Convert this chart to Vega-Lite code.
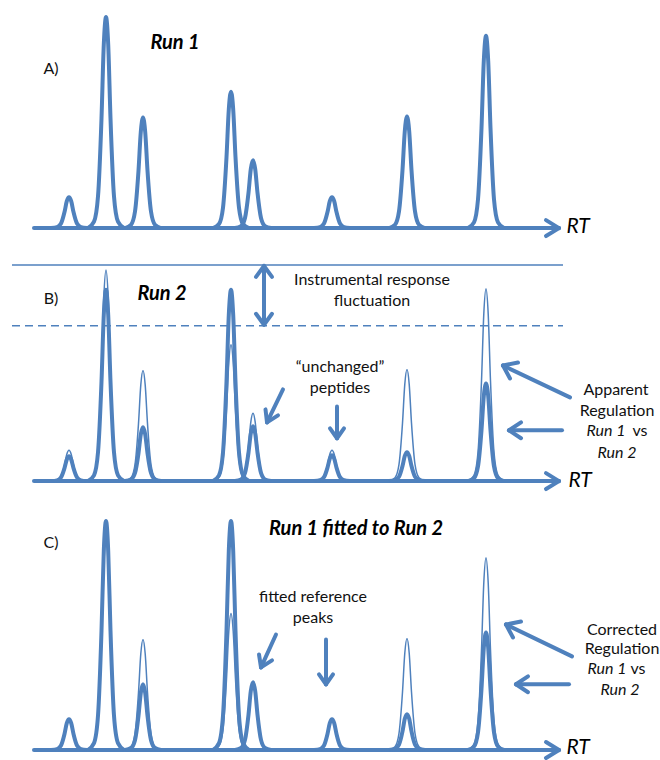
{
"$schema": "https://vega.github.io/schema/vega-lite/v6.json",
"width": 660, "height": 760, "padding": 0,
"autosize": {"type": "fit", "contains": "padding"},
"background": "white",
"config": {"view": {"stroke": null}},
"datasets": {
"peaks": [
{"panel":"A","run":1,"peak":1,"rt":51,"y":229},{"panel":"A","run":1,"peak":1,"rt":57,"y":228.1},{"panel":"A","run":1,"peak":1,"rt":61,"y":224.4},{"panel":"A","run":1,"peak":1,"rt":64.5,"y":212.9},{"panel":"A","run":1,"peak":1,"rt":66.8,"y":202},{"panel":"A","run":1,"peak":1,"rt":69,"y":198},{"panel":"A","run":1,"peak":1,"rt":71.2,"y":202},{"panel":"A","run":1,"peak":1,"rt":73.5,"y":212.9},{"panel":"A","run":1,"peak":1,"rt":77,"y":224.4},{"panel":"A","run":1,"peak":1,"rt":81,"y":228.1},{"panel":"A","run":1,"peak":1,"rt":87,"y":229},
{"panel":"A","run":1,"peak":2,"rt":88,"y":229},{"panel":"A","run":1,"peak":2,"rt":94,"y":222.6},{"panel":"A","run":1,"peak":2,"rt":98,"y":197.2},{"panel":"A","run":1,"peak":2,"rt":101.5,"y":118.8},{"panel":"A","run":1,"peak":2,"rt":103.8,"y":44.6},{"panel":"A","run":1,"peak":2,"rt":106,"y":17},{"panel":"A","run":1,"peak":2,"rt":108.2,"y":44.6},{"panel":"A","run":1,"peak":2,"rt":110.5,"y":118.8},{"panel":"A","run":1,"peak":2,"rt":114,"y":197.2},{"panel":"A","run":1,"peak":2,"rt":118,"y":222.6},{"panel":"A","run":1,"peak":2,"rt":124,"y":229},
{"panel":"A","run":1,"peak":3,"rt":125,"y":229},{"panel":"A","run":1,"peak":3,"rt":131,"y":225.7},{"panel":"A","run":1,"peak":3,"rt":135,"y":212.4},{"panel":"A","run":1,"peak":3,"rt":138.5,"y":171.3},{"panel":"A","run":1,"peak":3,"rt":140.8,"y":132.4},{"panel":"A","run":1,"peak":3,"rt":143,"y":118},{"panel":"A","run":1,"peak":3,"rt":145.2,"y":132.4},{"panel":"A","run":1,"peak":3,"rt":147.5,"y":171.3},{"panel":"A","run":1,"peak":3,"rt":151,"y":212.4},{"panel":"A","run":1,"peak":3,"rt":155,"y":225.7},{"panel":"A","run":1,"peak":3,"rt":161,"y":229},
{"panel":"A","run":1,"peak":4,"rt":213,"y":229},{"panel":"A","run":1,"peak":4,"rt":219,"y":224.9},{"panel":"A","run":1,"peak":4,"rt":223,"y":208.5},{"panel":"A","run":1,"peak":4,"rt":226.5,"y":157.8},{"panel":"A","run":1,"peak":4,"rt":228.8,"y":109.8},{"panel":"A","run":1,"peak":4,"rt":231,"y":92},{"panel":"A","run":1,"peak":4,"rt":233.2,"y":109.8},{"panel":"A","run":1,"peak":4,"rt":235.5,"y":157.8},{"panel":"A","run":1,"peak":4,"rt":239,"y":208.5},{"panel":"A","run":1,"peak":4,"rt":243,"y":224.9},{"panel":"A","run":1,"peak":4,"rt":249,"y":229},
{"panel":"A","run":1,"peak":5,"rt":235,"y":229},{"panel":"A","run":1,"peak":5,"rt":241,"y":227},{"panel":"A","run":1,"peak":5,"rt":245,"y":218.8},{"panel":"A","run":1,"peak":5,"rt":248.5,"y":193.6},{"panel":"A","run":1,"peak":5,"rt":250.8,"y":169.8},{"panel":"A","run":1,"peak":5,"rt":253,"y":161},{"panel":"A","run":1,"peak":5,"rt":255.2,"y":169.8},{"panel":"A","run":1,"peak":5,"rt":257.5,"y":193.6},{"panel":"A","run":1,"peak":5,"rt":261,"y":218.8},{"panel":"A","run":1,"peak":5,"rt":265,"y":227},{"panel":"A","run":1,"peak":5,"rt":271,"y":229},
{"panel":"A","run":1,"peak":6,"rt":314,"y":229},{"panel":"A","run":1,"peak":6,"rt":320,"y":228.1},{"panel":"A","run":1,"peak":6,"rt":324,"y":224.4},{"panel":"A","run":1,"peak":6,"rt":327.5,"y":212.9},{"panel":"A","run":1,"peak":6,"rt":329.8,"y":202},{"panel":"A","run":1,"peak":6,"rt":332,"y":198},{"panel":"A","run":1,"peak":6,"rt":334.2,"y":202},{"panel":"A","run":1,"peak":6,"rt":336.5,"y":212.9},{"panel":"A","run":1,"peak":6,"rt":340,"y":224.4},{"panel":"A","run":1,"peak":6,"rt":344,"y":228.1},{"panel":"A","run":1,"peak":6,"rt":350,"y":229},
{"panel":"A","run":1,"peak":7,"rt":389,"y":229},{"panel":"A","run":1,"peak":7,"rt":395,"y":225.6},{"panel":"A","run":1,"peak":7,"rt":399,"y":212.2},{"panel":"A","run":1,"peak":7,"rt":402.5,"y":170.8},{"panel":"A","run":1,"peak":7,"rt":404.8,"y":131.6},{"panel":"A","run":1,"peak":7,"rt":407,"y":117},{"panel":"A","run":1,"peak":7,"rt":409.2,"y":131.6},{"panel":"A","run":1,"peak":7,"rt":411.5,"y":170.8},{"panel":"A","run":1,"peak":7,"rt":415,"y":212.2},{"panel":"A","run":1,"peak":7,"rt":419,"y":225.6},{"panel":"A","run":1,"peak":7,"rt":425,"y":229},
{"panel":"A","run":1,"peak":8,"rt":468,"y":229},{"panel":"A","run":1,"peak":8,"rt":474,"y":223.2},{"panel":"A","run":1,"peak":8,"rt":478,"y":200.1},{"panel":"A","run":1,"peak":8,"rt":481.5,"y":128.6},{"panel":"A","run":1,"peak":8,"rt":483.8,"y":61.1},{"panel":"A","run":1,"peak":8,"rt":486,"y":36},{"panel":"A","run":1,"peak":8,"rt":488.2,"y":61.1},{"panel":"A","run":1,"peak":8,"rt":490.5,"y":128.6},{"panel":"A","run":1,"peak":8,"rt":494,"y":200.1},{"panel":"A","run":1,"peak":8,"rt":498,"y":223.2},{"panel":"A","run":1,"peak":8,"rt":504,"y":229},

{"panel":"B","run":1,"peak":1,"rt":51,"y":483},{"panel":"B","run":1,"peak":1,"rt":57,"y":482.1},{"panel":"B","run":1,"peak":1,"rt":61,"y":478.4},{"panel":"B","run":1,"peak":1,"rt":64.5,"y":466.9},{"panel":"B","run":1,"peak":1,"rt":66.8,"y":456},{"panel":"B","run":1,"peak":1,"rt":69,"y":452},{"panel":"B","run":1,"peak":1,"rt":71.2,"y":456},{"panel":"B","run":1,"peak":1,"rt":73.5,"y":466.9},{"panel":"B","run":1,"peak":1,"rt":77,"y":478.4},{"panel":"B","run":1,"peak":1,"rt":81,"y":482.1},{"panel":"B","run":1,"peak":1,"rt":87,"y":483},
{"panel":"B","run":1,"peak":2,"rt":88,"y":483},{"panel":"B","run":1,"peak":2,"rt":94,"y":476.6},{"panel":"B","run":1,"peak":2,"rt":98,"y":451.2},{"panel":"B","run":1,"peak":2,"rt":101.5,"y":372.8},{"panel":"B","run":1,"peak":2,"rt":103.8,"y":298.6},{"panel":"B","run":1,"peak":2,"rt":106,"y":271},{"panel":"B","run":1,"peak":2,"rt":108.2,"y":298.6},{"panel":"B","run":1,"peak":2,"rt":110.5,"y":372.8},{"panel":"B","run":1,"peak":2,"rt":114,"y":451.2},{"panel":"B","run":1,"peak":2,"rt":118,"y":476.6},{"panel":"B","run":1,"peak":2,"rt":124,"y":483},
{"panel":"B","run":1,"peak":3,"rt":125,"y":483},{"panel":"B","run":1,"peak":3,"rt":131,"y":479.7},{"panel":"B","run":1,"peak":3,"rt":135,"y":466.4},{"panel":"B","run":1,"peak":3,"rt":138.5,"y":425.3},{"panel":"B","run":1,"peak":3,"rt":140.8,"y":386.4},{"panel":"B","run":1,"peak":3,"rt":143,"y":372},{"panel":"B","run":1,"peak":3,"rt":145.2,"y":386.4},{"panel":"B","run":1,"peak":3,"rt":147.5,"y":425.3},{"panel":"B","run":1,"peak":3,"rt":151,"y":466.4},{"panel":"B","run":1,"peak":3,"rt":155,"y":479.7},{"panel":"B","run":1,"peak":3,"rt":161,"y":483},
{"panel":"B","run":1,"peak":4,"rt":213,"y":483},{"panel":"B","run":1,"peak":4,"rt":219,"y":478.9},{"panel":"B","run":1,"peak":4,"rt":223,"y":462.5},{"panel":"B","run":1,"peak":4,"rt":226.5,"y":411.8},{"panel":"B","run":1,"peak":4,"rt":228.8,"y":363.8},{"panel":"B","run":1,"peak":4,"rt":231,"y":346},{"panel":"B","run":1,"peak":4,"rt":233.2,"y":363.8},{"panel":"B","run":1,"peak":4,"rt":235.5,"y":411.8},{"panel":"B","run":1,"peak":4,"rt":239,"y":462.5},{"panel":"B","run":1,"peak":4,"rt":243,"y":478.9},{"panel":"B","run":1,"peak":4,"rt":249,"y":483},
{"panel":"B","run":1,"peak":5,"rt":235,"y":483},{"panel":"B","run":1,"peak":5,"rt":241,"y":481},{"panel":"B","run":1,"peak":5,"rt":245,"y":472.8},{"panel":"B","run":1,"peak":5,"rt":248.5,"y":447.6},{"panel":"B","run":1,"peak":5,"rt":250.8,"y":423.8},{"panel":"B","run":1,"peak":5,"rt":253,"y":415},{"panel":"B","run":1,"peak":5,"rt":255.2,"y":423.8},{"panel":"B","run":1,"peak":5,"rt":257.5,"y":447.6},{"panel":"B","run":1,"peak":5,"rt":261,"y":472.8},{"panel":"B","run":1,"peak":5,"rt":265,"y":481},{"panel":"B","run":1,"peak":5,"rt":271,"y":483},
{"panel":"B","run":1,"peak":6,"rt":314,"y":483},{"panel":"B","run":1,"peak":6,"rt":320,"y":482.1},{"panel":"B","run":1,"peak":6,"rt":324,"y":478.4},{"panel":"B","run":1,"peak":6,"rt":327.5,"y":466.9},{"panel":"B","run":1,"peak":6,"rt":329.8,"y":456},{"panel":"B","run":1,"peak":6,"rt":332,"y":452},{"panel":"B","run":1,"peak":6,"rt":334.2,"y":456},{"panel":"B","run":1,"peak":6,"rt":336.5,"y":466.9},{"panel":"B","run":1,"peak":6,"rt":340,"y":478.4},{"panel":"B","run":1,"peak":6,"rt":344,"y":482.1},{"panel":"B","run":1,"peak":6,"rt":350,"y":483},
{"panel":"B","run":1,"peak":7,"rt":389,"y":483},{"panel":"B","run":1,"peak":7,"rt":395,"y":479.6},{"panel":"B","run":1,"peak":7,"rt":399,"y":466.2},{"panel":"B","run":1,"peak":7,"rt":402.5,"y":424.8},{"panel":"B","run":1,"peak":7,"rt":404.8,"y":385.6},{"panel":"B","run":1,"peak":7,"rt":407,"y":371},{"panel":"B","run":1,"peak":7,"rt":409.2,"y":385.6},{"panel":"B","run":1,"peak":7,"rt":411.5,"y":424.8},{"panel":"B","run":1,"peak":7,"rt":415,"y":466.2},{"panel":"B","run":1,"peak":7,"rt":419,"y":479.6},{"panel":"B","run":1,"peak":7,"rt":425,"y":483},
{"panel":"B","run":1,"peak":8,"rt":468,"y":483},{"panel":"B","run":1,"peak":8,"rt":474,"y":477.2},{"panel":"B","run":1,"peak":8,"rt":478,"y":454.1},{"panel":"B","run":1,"peak":8,"rt":481.5,"y":382.6},{"panel":"B","run":1,"peak":8,"rt":483.8,"y":315.1},{"panel":"B","run":1,"peak":8,"rt":486,"y":290},{"panel":"B","run":1,"peak":8,"rt":488.2,"y":315.1},{"panel":"B","run":1,"peak":8,"rt":490.5,"y":382.6},{"panel":"B","run":1,"peak":8,"rt":494,"y":454.1},{"panel":"B","run":1,"peak":8,"rt":498,"y":477.2},{"panel":"B","run":1,"peak":8,"rt":504,"y":483},

{"panel":"B","run":2,"peak":1,"rt":51,"y":483},{"panel":"B","run":2,"peak":1,"rt":57,"y":482.3},{"panel":"B","run":2,"peak":1,"rt":61,"y":479.3},{"panel":"B","run":2,"peak":1,"rt":64.5,"y":470},{"panel":"B","run":2,"peak":1,"rt":66.8,"y":461.3},{"panel":"B","run":2,"peak":1,"rt":69,"y":458},{"panel":"B","run":2,"peak":1,"rt":71.2,"y":461.3},{"panel":"B","run":2,"peak":1,"rt":73.5,"y":470},{"panel":"B","run":2,"peak":1,"rt":77,"y":479.3},{"panel":"B","run":2,"peak":1,"rt":81,"y":482.3},{"panel":"B","run":2,"peak":1,"rt":87,"y":483},
{"panel":"B","run":2,"peak":2,"rt":88,"y":483},{"panel":"B","run":2,"peak":2,"rt":94,"y":477.2},{"panel":"B","run":2,"peak":2,"rt":98,"y":454.2},{"panel":"B","run":2,"peak":2,"rt":101.5,"y":383.2},{"panel":"B","run":2,"peak":2,"rt":103.8,"y":316},{"panel":"B","run":2,"peak":2,"rt":106,"y":291},{"panel":"B","run":2,"peak":2,"rt":108.2,"y":316},{"panel":"B","run":2,"peak":2,"rt":110.5,"y":383.2},{"panel":"B","run":2,"peak":2,"rt":114,"y":454.2},{"panel":"B","run":2,"peak":2,"rt":118,"y":477.2},{"panel":"B","run":2,"peak":2,"rt":124,"y":483},
{"panel":"B","run":2,"peak":3,"rt":125,"y":483},{"panel":"B","run":2,"peak":3,"rt":131,"y":481.4},{"panel":"B","run":2,"peak":3,"rt":135,"y":474.9},{"panel":"B","run":2,"peak":3,"rt":138.5,"y":454.9},{"panel":"B","run":2,"peak":3,"rt":140.8,"y":436},{"panel":"B","run":2,"peak":3,"rt":143,"y":429},{"panel":"B","run":2,"peak":3,"rt":145.2,"y":436},{"panel":"B","run":2,"peak":3,"rt":147.5,"y":454.9},{"panel":"B","run":2,"peak":3,"rt":151,"y":474.9},{"panel":"B","run":2,"peak":3,"rt":155,"y":481.4},{"panel":"B","run":2,"peak":3,"rt":161,"y":483},
{"panel":"B","run":2,"peak":4,"rt":213,"y":483},{"panel":"B","run":2,"peak":4,"rt":219,"y":477.2},{"panel":"B","run":2,"peak":4,"rt":223,"y":454.2},{"panel":"B","run":2,"peak":4,"rt":226.5,"y":383.2},{"panel":"B","run":2,"peak":4,"rt":228.8,"y":316},{"panel":"B","run":2,"peak":4,"rt":231,"y":291},{"panel":"B","run":2,"peak":4,"rt":233.2,"y":316},{"panel":"B","run":2,"peak":4,"rt":235.5,"y":383.2},{"panel":"B","run":2,"peak":4,"rt":239,"y":454.2},{"panel":"B","run":2,"peak":4,"rt":243,"y":477.2},{"panel":"B","run":2,"peak":4,"rt":249,"y":483},
{"panel":"B","run":2,"peak":5,"rt":235,"y":483},{"panel":"B","run":2,"peak":5,"rt":241,"y":481.4},{"panel":"B","run":2,"peak":5,"rt":245,"y":474.8},{"panel":"B","run":2,"peak":5,"rt":248.5,"y":454.4},{"panel":"B","run":2,"peak":5,"rt":250.8,"y":435.2},{"panel":"B","run":2,"peak":5,"rt":253,"y":428},{"panel":"B","run":2,"peak":5,"rt":255.2,"y":435.2},{"panel":"B","run":2,"peak":5,"rt":257.5,"y":454.4},{"panel":"B","run":2,"peak":5,"rt":261,"y":474.8},{"panel":"B","run":2,"peak":5,"rt":265,"y":481.4},{"panel":"B","run":2,"peak":5,"rt":271,"y":483},
{"panel":"B","run":2,"peak":6,"rt":314,"y":483},{"panel":"B","run":2,"peak":6,"rt":320,"y":482.2},{"panel":"B","run":2,"peak":6,"rt":324,"y":479.1},{"panel":"B","run":2,"peak":6,"rt":327.5,"y":469.5},{"panel":"B","run":2,"peak":6,"rt":329.8,"y":460.4},{"panel":"B","run":2,"peak":6,"rt":332,"y":457},{"panel":"B","run":2,"peak":6,"rt":334.2,"y":460.4},{"panel":"B","run":2,"peak":6,"rt":336.5,"y":469.5},{"panel":"B","run":2,"peak":6,"rt":340,"y":479.1},{"panel":"B","run":2,"peak":6,"rt":344,"y":482.2},{"panel":"B","run":2,"peak":6,"rt":350,"y":483},
{"panel":"B","run":2,"peak":7,"rt":389,"y":483},{"panel":"B","run":2,"peak":7,"rt":395,"y":482.1},{"panel":"B","run":2,"peak":7,"rt":399,"y":478.7},{"panel":"B","run":2,"peak":7,"rt":402.5,"y":467.9},{"panel":"B","run":2,"peak":7,"rt":404.8,"y":457.8},{"panel":"B","run":2,"peak":7,"rt":407,"y":454},{"panel":"B","run":2,"peak":7,"rt":409.2,"y":457.8},{"panel":"B","run":2,"peak":7,"rt":411.5,"y":467.9},{"panel":"B","run":2,"peak":7,"rt":415,"y":478.7},{"panel":"B","run":2,"peak":7,"rt":419,"y":482.1},{"panel":"B","run":2,"peak":7,"rt":425,"y":483},
{"panel":"B","run":2,"peak":8,"rt":468,"y":483},{"panel":"B","run":2,"peak":8,"rt":474,"y":480.1},{"panel":"B","run":2,"peak":8,"rt":478,"y":468.3},{"panel":"B","run":2,"peak":8,"rt":481.5,"y":432},{"panel":"B","run":2,"peak":8,"rt":483.8,"y":397.7},{"panel":"B","run":2,"peak":8,"rt":486,"y":385},{"panel":"B","run":2,"peak":8,"rt":488.2,"y":397.7},{"panel":"B","run":2,"peak":8,"rt":490.5,"y":432},{"panel":"B","run":2,"peak":8,"rt":494,"y":468.3},{"panel":"B","run":2,"peak":8,"rt":498,"y":480.1},{"panel":"B","run":2,"peak":8,"rt":504,"y":483},

{"panel":"C","run":1,"peak":1,"rt":51,"y":753},{"panel":"C","run":1,"peak":1,"rt":57,"y":752.1},{"panel":"C","run":1,"peak":1,"rt":61,"y":748.4},{"panel":"C","run":1,"peak":1,"rt":64.5,"y":736.9},{"panel":"C","run":1,"peak":1,"rt":66.8,"y":726},{"panel":"C","run":1,"peak":1,"rt":69,"y":722},{"panel":"C","run":1,"peak":1,"rt":71.2,"y":726},{"panel":"C","run":1,"peak":1,"rt":73.5,"y":736.9},{"panel":"C","run":1,"peak":1,"rt":77,"y":748.4},{"panel":"C","run":1,"peak":1,"rt":81,"y":752.1},{"panel":"C","run":1,"peak":1,"rt":87,"y":753},
{"panel":"C","run":1,"peak":2,"rt":88,"y":753},{"panel":"C","run":1,"peak":2,"rt":94,"y":746.6},{"panel":"C","run":1,"peak":2,"rt":98,"y":721.2},{"panel":"C","run":1,"peak":2,"rt":101.5,"y":642.8},{"panel":"C","run":1,"peak":2,"rt":103.8,"y":568.6},{"panel":"C","run":1,"peak":2,"rt":106,"y":541},{"panel":"C","run":1,"peak":2,"rt":108.2,"y":568.6},{"panel":"C","run":1,"peak":2,"rt":110.5,"y":642.8},{"panel":"C","run":1,"peak":2,"rt":114,"y":721.2},{"panel":"C","run":1,"peak":2,"rt":118,"y":746.6},{"panel":"C","run":1,"peak":2,"rt":124,"y":753},
{"panel":"C","run":1,"peak":3,"rt":125,"y":753},{"panel":"C","run":1,"peak":3,"rt":131,"y":749.7},{"panel":"C","run":1,"peak":3,"rt":135,"y":736.4},{"panel":"C","run":1,"peak":3,"rt":138.5,"y":695.3},{"panel":"C","run":1,"peak":3,"rt":140.8,"y":656.4},{"panel":"C","run":1,"peak":3,"rt":143,"y":642},{"panel":"C","run":1,"peak":3,"rt":145.2,"y":656.4},{"panel":"C","run":1,"peak":3,"rt":147.5,"y":695.3},{"panel":"C","run":1,"peak":3,"rt":151,"y":736.4},{"panel":"C","run":1,"peak":3,"rt":155,"y":749.7},{"panel":"C","run":1,"peak":3,"rt":161,"y":753},
{"panel":"C","run":1,"peak":4,"rt":213,"y":753},{"panel":"C","run":1,"peak":4,"rt":219,"y":748.9},{"panel":"C","run":1,"peak":4,"rt":223,"y":732.5},{"panel":"C","run":1,"peak":4,"rt":226.5,"y":681.8},{"panel":"C","run":1,"peak":4,"rt":228.8,"y":633.8},{"panel":"C","run":1,"peak":4,"rt":231,"y":616},{"panel":"C","run":1,"peak":4,"rt":233.2,"y":633.8},{"panel":"C","run":1,"peak":4,"rt":235.5,"y":681.8},{"panel":"C","run":1,"peak":4,"rt":239,"y":732.5},{"panel":"C","run":1,"peak":4,"rt":243,"y":748.9},{"panel":"C","run":1,"peak":4,"rt":249,"y":753},
{"panel":"C","run":1,"peak":5,"rt":235,"y":753},{"panel":"C","run":1,"peak":5,"rt":241,"y":751},{"panel":"C","run":1,"peak":5,"rt":245,"y":742.8},{"panel":"C","run":1,"peak":5,"rt":248.5,"y":717.6},{"panel":"C","run":1,"peak":5,"rt":250.8,"y":693.8},{"panel":"C","run":1,"peak":5,"rt":253,"y":685},{"panel":"C","run":1,"peak":5,"rt":255.2,"y":693.8},{"panel":"C","run":1,"peak":5,"rt":257.5,"y":717.6},{"panel":"C","run":1,"peak":5,"rt":261,"y":742.8},{"panel":"C","run":1,"peak":5,"rt":265,"y":751},{"panel":"C","run":1,"peak":5,"rt":271,"y":753},
{"panel":"C","run":1,"peak":6,"rt":314,"y":753},{"panel":"C","run":1,"peak":6,"rt":320,"y":752.1},{"panel":"C","run":1,"peak":6,"rt":324,"y":748.4},{"panel":"C","run":1,"peak":6,"rt":327.5,"y":736.9},{"panel":"C","run":1,"peak":6,"rt":329.8,"y":726},{"panel":"C","run":1,"peak":6,"rt":332,"y":722},{"panel":"C","run":1,"peak":6,"rt":334.2,"y":726},{"panel":"C","run":1,"peak":6,"rt":336.5,"y":736.9},{"panel":"C","run":1,"peak":6,"rt":340,"y":748.4},{"panel":"C","run":1,"peak":6,"rt":344,"y":752.1},{"panel":"C","run":1,"peak":6,"rt":350,"y":753},
{"panel":"C","run":1,"peak":7,"rt":389,"y":753},{"panel":"C","run":1,"peak":7,"rt":395,"y":749.6},{"panel":"C","run":1,"peak":7,"rt":399,"y":736.2},{"panel":"C","run":1,"peak":7,"rt":402.5,"y":694.8},{"panel":"C","run":1,"peak":7,"rt":404.8,"y":655.6},{"panel":"C","run":1,"peak":7,"rt":407,"y":641},{"panel":"C","run":1,"peak":7,"rt":409.2,"y":655.6},{"panel":"C","run":1,"peak":7,"rt":411.5,"y":694.8},{"panel":"C","run":1,"peak":7,"rt":415,"y":736.2},{"panel":"C","run":1,"peak":7,"rt":419,"y":749.6},{"panel":"C","run":1,"peak":7,"rt":425,"y":753},
{"panel":"C","run":1,"peak":8,"rt":468,"y":753},{"panel":"C","run":1,"peak":8,"rt":474,"y":747.2},{"panel":"C","run":1,"peak":8,"rt":478,"y":724.1},{"panel":"C","run":1,"peak":8,"rt":481.5,"y":652.6},{"panel":"C","run":1,"peak":8,"rt":483.8,"y":585.1},{"panel":"C","run":1,"peak":8,"rt":486,"y":560},{"panel":"C","run":1,"peak":8,"rt":488.2,"y":585.1},{"panel":"C","run":1,"peak":8,"rt":490.5,"y":652.6},{"panel":"C","run":1,"peak":8,"rt":494,"y":724.1},{"panel":"C","run":1,"peak":8,"rt":498,"y":747.2},{"panel":"C","run":1,"peak":8,"rt":504,"y":753},

{"panel":"C","run":2,"peak":1,"rt":51,"y":753},{"panel":"C","run":2,"peak":1,"rt":57,"y":752.1},{"panel":"C","run":2,"peak":1,"rt":61,"y":748.4},{"panel":"C","run":2,"peak":1,"rt":64.5,"y":736.9},{"panel":"C","run":2,"peak":1,"rt":66.8,"y":726},{"panel":"C","run":2,"peak":1,"rt":69,"y":722},{"panel":"C","run":2,"peak":1,"rt":71.2,"y":726},{"panel":"C","run":2,"peak":1,"rt":73.5,"y":736.9},{"panel":"C","run":2,"peak":1,"rt":77,"y":748.4},{"panel":"C","run":2,"peak":1,"rt":81,"y":752.1},{"panel":"C","run":2,"peak":1,"rt":87,"y":753},
{"panel":"C","run":2,"peak":2,"rt":88,"y":753},{"panel":"C","run":2,"peak":2,"rt":94,"y":746.1},{"panel":"C","run":2,"peak":2,"rt":98,"y":718.5},{"panel":"C","run":2,"peak":2,"rt":101.5,"y":633.4},{"panel":"C","run":2,"peak":2,"rt":103.8,"y":552.9},{"panel":"C","run":2,"peak":2,"rt":106,"y":523},{"panel":"C","run":2,"peak":2,"rt":108.2,"y":552.9},{"panel":"C","run":2,"peak":2,"rt":110.5,"y":633.4},{"panel":"C","run":2,"peak":2,"rt":114,"y":718.5},{"panel":"C","run":2,"peak":2,"rt":118,"y":746.1},{"panel":"C","run":2,"peak":2,"rt":124,"y":753},
{"panel":"C","run":2,"peak":3,"rt":125,"y":753},{"panel":"C","run":2,"peak":3,"rt":131,"y":751},{"panel":"C","run":2,"peak":3,"rt":135,"y":743.1},{"panel":"C","run":2,"peak":3,"rt":138.5,"y":718.7},{"panel":"C","run":2,"peak":3,"rt":140.8,"y":695.6},{"panel":"C","run":2,"peak":3,"rt":143,"y":687},{"panel":"C","run":2,"peak":3,"rt":145.2,"y":695.6},{"panel":"C","run":2,"peak":3,"rt":147.5,"y":718.7},{"panel":"C","run":2,"peak":3,"rt":151,"y":743.1},{"panel":"C","run":2,"peak":3,"rt":155,"y":751},{"panel":"C","run":2,"peak":3,"rt":161,"y":753},
{"panel":"C","run":2,"peak":4,"rt":213,"y":753},{"panel":"C","run":2,"peak":4,"rt":219,"y":746.1},{"panel":"C","run":2,"peak":4,"rt":223,"y":718.5},{"panel":"C","run":2,"peak":4,"rt":226.5,"y":633.4},{"panel":"C","run":2,"peak":4,"rt":228.8,"y":552.9},{"panel":"C","run":2,"peak":4,"rt":231,"y":523},{"panel":"C","run":2,"peak":4,"rt":233.2,"y":552.9},{"panel":"C","run":2,"peak":4,"rt":235.5,"y":633.4},{"panel":"C","run":2,"peak":4,"rt":239,"y":718.5},{"panel":"C","run":2,"peak":4,"rt":243,"y":746.1},{"panel":"C","run":2,"peak":4,"rt":249,"y":753},
{"panel":"C","run":2,"peak":5,"rt":235,"y":753},{"panel":"C","run":2,"peak":5,"rt":241,"y":751},{"panel":"C","run":2,"peak":5,"rt":245,"y":742.8},{"panel":"C","run":2,"peak":5,"rt":248.5,"y":717.6},{"panel":"C","run":2,"peak":5,"rt":250.8,"y":693.8},{"panel":"C","run":2,"peak":5,"rt":253,"y":685},{"panel":"C","run":2,"peak":5,"rt":255.2,"y":693.8},{"panel":"C","run":2,"peak":5,"rt":257.5,"y":717.6},{"panel":"C","run":2,"peak":5,"rt":261,"y":742.8},{"panel":"C","run":2,"peak":5,"rt":265,"y":751},{"panel":"C","run":2,"peak":5,"rt":271,"y":753},
{"panel":"C","run":2,"peak":6,"rt":314,"y":753},{"panel":"C","run":2,"peak":6,"rt":320,"y":752.1},{"panel":"C","run":2,"peak":6,"rt":324,"y":748.4},{"panel":"C","run":2,"peak":6,"rt":327.5,"y":736.9},{"panel":"C","run":2,"peak":6,"rt":329.8,"y":726},{"panel":"C","run":2,"peak":6,"rt":332,"y":722},{"panel":"C","run":2,"peak":6,"rt":334.2,"y":726},{"panel":"C","run":2,"peak":6,"rt":336.5,"y":736.9},{"panel":"C","run":2,"peak":6,"rt":340,"y":748.4},{"panel":"C","run":2,"peak":6,"rt":344,"y":752.1},{"panel":"C","run":2,"peak":6,"rt":350,"y":753},
{"panel":"C","run":2,"peak":7,"rt":389,"y":753},{"panel":"C","run":2,"peak":7,"rt":395,"y":751.9},{"panel":"C","run":2,"peak":7,"rt":399,"y":747.6},{"panel":"C","run":2,"peak":7,"rt":402.5,"y":734.3},{"panel":"C","run":2,"peak":7,"rt":404.8,"y":721.7},{"panel":"C","run":2,"peak":7,"rt":407,"y":717},{"panel":"C","run":2,"peak":7,"rt":409.2,"y":721.7},{"panel":"C","run":2,"peak":7,"rt":411.5,"y":734.3},{"panel":"C","run":2,"peak":7,"rt":415,"y":747.6},{"panel":"C","run":2,"peak":7,"rt":419,"y":751.9},{"panel":"C","run":2,"peak":7,"rt":425,"y":753},
{"panel":"C","run":2,"peak":8,"rt":468,"y":753},{"panel":"C","run":2,"peak":8,"rt":474,"y":749.5},{"panel":"C","run":2,"peak":8,"rt":478,"y":735.3},{"panel":"C","run":2,"peak":8,"rt":481.5,"y":691.6},{"panel":"C","run":2,"peak":8,"rt":483.8,"y":650.3},{"panel":"C","run":2,"peak":8,"rt":486,"y":635},{"panel":"C","run":2,"peak":8,"rt":488.2,"y":650.3},{"panel":"C","run":2,"peak":8,"rt":490.5,"y":691.6},{"panel":"C","run":2,"peak":8,"rt":494,"y":735.3},{"panel":"C","run":2,"peak":8,"rt":498,"y":749.5},{"panel":"C","run":2,"peak":8,"rt":504,"y":753}
],
"segments": [
{"kind":"axis","x":34,"y":229,"x2":559,"y2":229},{"kind":"axis","x":559,"y":229,"x2":546,"y2":221},{"kind":"axis","x":559,"y":229,"x2":546,"y2":237},
{"kind":"axis","x":34,"y":483,"x2":559,"y2":483},{"kind":"axis","x":559,"y":483,"x2":546,"y2":475},{"kind":"axis","x":559,"y":483,"x2":546,"y2":491},
{"kind":"axis","x":34,"y":753,"x2":559,"y2":753},{"kind":"axis","x":559,"y":753,"x2":546,"y2":745},{"kind":"axis","x":559,"y":753,"x2":546,"y2":761},
{"kind":"solid","x":12,"y":266,"x2":563,"y2":266},
{"kind":"dashed","x":12,"y":327,"x2":563,"y2":327},
{"kind":"arrow","x":264,"y":268,"x2":264,"y2":325},{"kind":"arrow","x":264,"y":267,"x2":256,"y2":278},{"kind":"arrow","x":264,"y":267,"x2":272,"y2":278},{"kind":"arrow","x":264,"y":326,"x2":256,"y2":315},{"kind":"arrow","x":264,"y":326,"x2":272,"y2":315},
{"kind":"arrow","x":283,"y":391,"x2":267,"y2":424},{"kind":"arrow","x":267,"y":424,"x2":278,"y2":417},{"kind":"arrow","x":267,"y":424,"x2":265.5,"y2":411},
{"kind":"arrow","x":337,"y":408,"x2":337,"y2":440},{"kind":"arrow","x":337,"y":440,"x2":330,"y2":430},{"kind":"arrow","x":337,"y":440,"x2":344,"y2":430},
{"kind":"arrow","x":570,"y":399,"x2":503,"y2":367},{"kind":"arrow","x":503,"y":367,"x2":518,"y2":364},{"kind":"arrow","x":503,"y":367,"x2":510,"y2":380},
{"kind":"arrow","x":562,"y":432,"x2":509,"y2":432},{"kind":"arrow","x":509,"y":432,"x2":521,"y2":424},{"kind":"arrow","x":509,"y":432,"x2":521,"y2":440},
{"kind":"arrow","x":276,"y":637,"x2":261,"y2":670},{"kind":"arrow","x":261,"y":670,"x2":272,"y2":663},{"kind":"arrow","x":261,"y":670,"x2":259,"y2":657},
{"kind":"arrow","x":326,"y":642,"x2":326,"y2":687},{"kind":"arrow","x":326,"y":687,"x2":319,"y2":677},{"kind":"arrow","x":326,"y":687,"x2":333,"y2":677},
{"kind":"arrow","x":572,"y":659,"x2":506,"y2":627},{"kind":"arrow","x":506,"y":627,"x2":521,"y2":624},{"kind":"arrow","x":506,"y":627,"x2":513,"y2":640},
{"kind":"arrow","x":569,"y":687,"x2":516,"y2":687},{"kind":"arrow","x":516,"y":687,"x2":528,"y2":679},{"kind":"arrow","x":516,"y":687,"x2":528,"y2":695}
],
"labels": [
{"role":"panel","text":"A)","x":51,"y":69},
{"role":"panel","text":"B)","x":51,"y":300},
{"role":"panel","text":"C)","x":51,"y":545},
{"role":"title","text":"Run 1","x":175,"y":43},
{"role":"title","text":"Run 2","x":162,"y":295},
{"role":"title","text":"Run 1 fitted to Run 2","x":356,"y":531},
{"role":"axis","text":"RT","x":578,"y":228},
{"role":"axis","text":"RT","x":580,"y":483},
{"role":"axis","text":"RT","x":578,"y":751},
{"role":"note","text":"Instrumental response","x":372,"y":281},
{"role":"note","text":"fluctuation","x":372,"y":302},
{"role":"note","text":"“unchanged”","x":340,"y":368},
{"role":"note","text":"peptides","x":340,"y":390},
{"role":"note","text":"Apparent","x":616,"y":392},
{"role":"note","text":"Regulation","x":617,"y":413},
{"role":"italic","text":"Run 1","x":606,"y":433},
{"role":"note","text":"vs","x":640,"y":433},
{"role":"italic","text":"Run 2","x":617,"y":455},
{"role":"note","text":"fitted reference","x":313,"y":599},
{"role":"note","text":"peaks","x":313,"y":620},
{"role":"note","text":"Corrected","x":622,"y":632},
{"role":"note","text":"Regulation","x":622,"y":652},
{"role":"italic","text":"Run 1","x":607,"y":672},
{"role":"note","text":"vs","x":638,"y":672},
{"role":"italic","text":"Run 2","x":620,"y":693}
]
},
"layer": [
{"data":{"name":"segments"},"transform":[{"filter":"datum.kind === 'axis'"}],
 "mark":{"type":"rule","color":"#4F81BD","strokeWidth":4,"strokeCap":"round"},
 "encoding":{"x":{"field":"x","type":"quantitative","scale":{"domain":[0,660],"nice":false,"zero":false},"axis":null},"y":{"field":"y","type":"quantitative","scale":{"domain":[0,760],"reverse":true,"nice":false,"zero":false},"axis":null},"x2":{"field":"x2"},"y2":{"field":"y2"}}},
{"data":{"name":"segments"},"transform":[{"filter":"datum.kind === 'solid'"}],
 "mark":{"type":"rule","color":"#4F81BD","strokeWidth":1.5},
 "encoding":{"x":{"field":"x","type":"quantitative","scale":{"domain":[0,660],"nice":false,"zero":false},"axis":null},"y":{"field":"y","type":"quantitative","scale":{"domain":[0,760],"reverse":true,"nice":false,"zero":false},"axis":null},"x2":{"field":"x2"},"y2":{"field":"y2"}}},
{"data":{"name":"segments"},"transform":[{"filter":"datum.kind === 'dashed'"}],
 "mark":{"type":"rule","color":"#4F81BD","strokeWidth":1.5,"strokeDash":[8,5]},
 "encoding":{"x":{"field":"x","type":"quantitative","scale":{"domain":[0,660],"nice":false,"zero":false},"axis":null},"y":{"field":"y","type":"quantitative","scale":{"domain":[0,760],"reverse":true,"nice":false,"zero":false},"axis":null},"x2":{"field":"x2"},"y2":{"field":"y2"}}},
{"data":{"name":"peaks"},"transform":[{"filter":"datum.panel === 'A' || datum.run === 2"}],
 "mark":{"type":"line","color":"#4F81BD","strokeWidth":4,"interpolate":"monotone","strokeJoin":"round"},
 "encoding":{"x":{"field":"rt","type":"quantitative","scale":{"domain":[0,660],"nice":false,"zero":false},"axis":null},"y":{"field":"y","type":"quantitative","scale":{"domain":[0,760],"reverse":true,"nice":false,"zero":false},"axis":null},"detail":[{"field":"panel"},{"field":"run"},{"field":"peak"}]}},
{"data":{"name":"peaks"},"transform":[{"filter":"datum.panel !== 'A' && datum.run === 1"}],
 "mark":{"type":"line","color":"#4F81BD","strokeWidth":1.5,"interpolate":"monotone"},
 "encoding":{"x":{"field":"rt","type":"quantitative","scale":{"domain":[0,660],"nice":false,"zero":false},"axis":null},"y":{"field":"y","type":"quantitative","scale":{"domain":[0,760],"reverse":true,"nice":false,"zero":false},"axis":null},"detail":[{"field":"panel"},{"field":"run"},{"field":"peak"}]}},
{"data":{"name":"segments"},"transform":[{"filter":"datum.kind === 'arrow'"}],
 "mark":{"type":"rule","color":"#4F81BD","strokeWidth":4,"strokeCap":"round"},
 "encoding":{"x":{"field":"x","type":"quantitative","scale":{"domain":[0,660],"nice":false,"zero":false},"axis":null},"y":{"field":"y","type":"quantitative","scale":{"domain":[0,760],"reverse":true,"nice":false,"zero":false},"axis":null},"x2":{"field":"x2"},"y2":{"field":"y2"}}},
{"data":{"name":"labels"},"transform":[{"filter":"datum.role === 'panel' || datum.role === 'note'"}],
 "mark":{"type":"text","font":"Lato","fontSize":16,"color":"#111111","align":"center","baseline":"middle"},
 "encoding":{"x":{"field":"x","type":"quantitative","scale":{"domain":[0,660],"nice":false,"zero":false},"axis":null},"y":{"field":"y","type":"quantitative","scale":{"domain":[0,760],"reverse":true,"nice":false,"zero":false},"axis":null},"text":{"field":"text"}}},
{"data":{"name":"labels"},"transform":[{"filter":"datum.role === 'italic'"}],
 "mark":{"type":"text","font":"Lato","fontSize":16,"fontStyle":"italic","color":"#111111","align":"center","baseline":"middle"},
 "encoding":{"x":{"field":"x","type":"quantitative","scale":{"domain":[0,660],"nice":false,"zero":false},"axis":null},"y":{"field":"y","type":"quantitative","scale":{"domain":[0,760],"reverse":true,"nice":false,"zero":false},"axis":null},"text":{"field":"text"}}},
{"data":{"name":"labels"},"transform":[{"filter":"datum.role === 'title'"}],
 "mark":{"type":"text","font":"Lato","fontSize":20,"fontStyle":"italic","fontWeight":"bold","color":"#000000","align":"center","baseline":"middle"},
 "encoding":{"x":{"field":"x","type":"quantitative","scale":{"domain":[0,660],"nice":false,"zero":false},"axis":null},"y":{"field":"y","type":"quantitative","scale":{"domain":[0,760],"reverse":true,"nice":false,"zero":false},"axis":null},"text":{"field":"text"}}},
{"data":{"name":"labels"},"transform":[{"filter":"datum.role === 'axis'"}],
 "mark":{"type":"text","font":"Lato","fontSize":21,"fontStyle":"italic","color":"#000000","align":"center","baseline":"middle"},
 "encoding":{"x":{"field":"x","type":"quantitative","scale":{"domain":[0,660],"nice":false,"zero":false},"axis":null},"y":{"field":"y","type":"quantitative","scale":{"domain":[0,760],"reverse":true,"nice":false,"zero":false},"axis":null},"text":{"field":"text"}}}
]
}
